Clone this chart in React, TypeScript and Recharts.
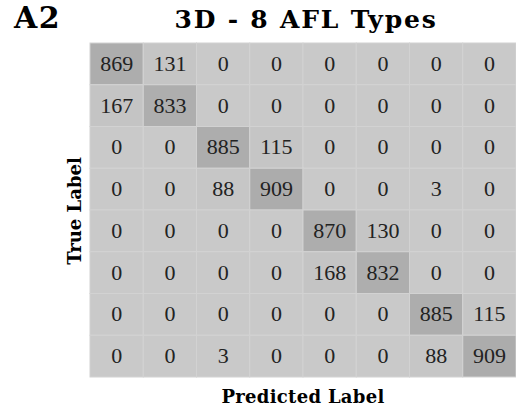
import React from 'react';
import { ScatterChart, Scatter, XAxis, YAxis } from 'recharts';

// confusion matrix, rows = true label, columns = predicted label
const classes = ['0', '1', '2', '3', '4', '5', '6', '7'];
const row0 = [869, 131, 0, 0, 0, 0, 0, 0];
const row1 = [167, 833, 0, 0, 0, 0, 0, 0];
const row2 = [0, 0, 885, 115, 0, 0, 0, 0];
const row3 = [0, 0, 88, 909, 0, 0, 3, 0];
const row4 = [0, 0, 0, 0, 870, 130, 0, 0];
const row5 = [0, 0, 0, 0, 168, 832, 0, 0];
const row6 = [0, 0, 0, 0, 0, 0, 885, 115];
const row7 = [0, 0, 3, 0, 0, 0, 88, 909];
const matrix = [row0, row1, row2, row3, row4, row5, row6, row7];

const W = 516;
const H = 413;
const margin = { top: 43, right: 0, bottom: 36, left: 90 };
const cellW = (W - margin.left - margin.right) / classes.length;
const cellH = (H - margin.top - margin.bottom) / classes.length;

const boldSerif = '"DejaVu Serif", "Liberation Serif", serif';

const cells = matrix.flatMap((row, r) =>
  row.map((v, c) => ({ x: c + 0.5, y: r + 0.5, value: v }))
);

const shade = (v: number) => {
  const g = Math.round(201 - v * 0.032);
  return `rgb(${g},${g},${g})`;
};

const CellShape = (props: any) => {
  const { cx, cy, payload } = props;
  return (
    <g>
      <rect
        x={cx - cellW / 2}
        y={cy - cellH / 2}
        width={cellW}
        height={cellH}
        fill={shade(payload.value)}
        stroke="#d2d2d2"
        strokeWidth={1}
      />
      <text
        x={cx}
        y={cy + 7}
        textAnchor="middle"
        style={{ fontFamily: 'Liberation Serif, Times New Roman, serif', fontSize: 22, fill: '#222' }}
      >
        {payload.value}
      </text>
    </g>
  );
};

export default function App() {
  return (
    <div style={{ position: 'absolute', left: 0, top: 0, width: W, height: H, background: '#fff', fontFamily: boldSerif }}>
      <div style={{ position: 'absolute', left: 14, top: 3, fontSize: 30, lineHeight: '30px', fontWeight: 'bold', letterSpacing: 1.5 }}>A2</div>
      <div style={{ position: 'absolute', left: 90, width: 432, top: 5, lineHeight: '30px', textAlign: 'center', fontSize: 25, fontWeight: 'bold', letterSpacing: 1.8 }}>
        3D - 8 AFL Types
      </div>
      <div style={{ position: 'absolute', left: 90, width: 426, top: 386, lineHeight: '22px', textAlign: 'center', fontSize: 18, fontWeight: 'bold', letterSpacing: 0.3 }}>
        Predicted Label
      </div>
      <div
        style={{
          position: 'absolute',
          left: 75,
          top: 211,
          transform: 'translate(-50%, -50%) rotate(-90deg)',
          whiteSpace: 'nowrap',
          fontSize: 18,
          lineHeight: '22px',
          fontWeight: 'bold',
        }}
      >
        True Label
      </div>
      <ScatterChart width={W} height={H} margin={margin}>
        <XAxis type="number" dataKey="x" domain={[0, classes.length]} hide />
        <YAxis type="number" dataKey="y" domain={[0, classes.length]} reversed hide />
        <Scatter data={cells} shape={<CellShape />} isAnimationActive={false} />
      </ScatterChart>
    </div>
  );
}
